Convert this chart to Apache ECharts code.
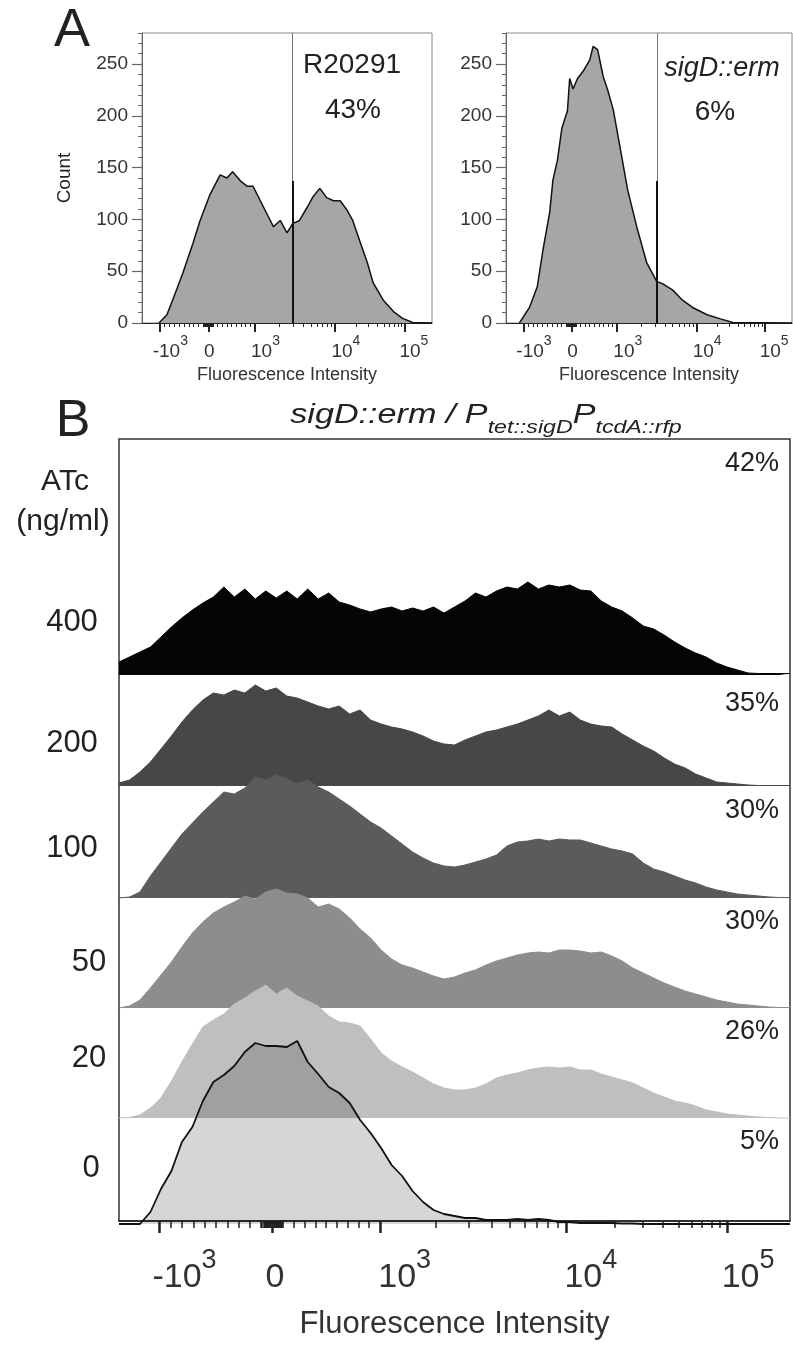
<!DOCTYPE html>
<html>
<head>
<meta charset="utf-8">
<script src="https://cdn.jsdelivr.net/npm/echarts@6/dist/echarts.min.js"></script>
<style>
html, body { margin: 0; padding: 0; background: #fff; }
#chart { width: 793px; height: 1345px; }
</style>
</head>
<body>
<div id="chart"></div>
<script>
const FONT = '"Liberation Sans", Arial, sans-serif'

// fluorescence axis, in display channels (0..256, logicle-like scale)
const tickValues = [-1000, 0, 1000, 10000, 100000]
const tickChannels = [15.5, 58.5, 99.5, 170.5, 232]
const tickLabelChannels = [25, 59.5, 109, 180, 240]
const tickBase = ['-10', '0', '10', '10', '10']
const tickExp = ['3', '', '3', '4', '5']

// panel A - count axis
const countTicks = [0, 50, 100, 150, 200, 250]

// panel A - R20291
const wtChannels = [15, 22, 27, 36, 45, 51, 60, 69, 75, 80, 87, 93, 98, 104, 110, 116, 122, 128, 133, 139,
    146, 151, 157, 163, 169, 175, 181, 186, 192, 199, 204, 213, 222, 230, 239, 256]
const wtCounts = [0, 8, 22, 48, 77, 98, 124, 143, 140, 146, 137, 132, 132, 119, 106, 93, 99, 87, 96, 99,
    112, 122, 130, 121, 118, 118, 109, 99, 80, 58, 39, 22, 11, 4.5, 0.5, 0]

// panel A - sigD::erm
const sigdChannels = [12, 21, 28, 33, 39, 42, 46, 50, 55, 57, 60, 64, 69, 75, 78, 82, 87, 91, 96, 102,
    109, 117, 126, 135, 140, 149, 158, 167, 180, 192, 203, 256]
const sigdCounts = [0, 15, 35, 70, 106, 138, 157, 188, 205, 236, 226, 236, 243, 254, 267, 264, 238, 225, 206, 170,
    128, 93, 58, 40, 38, 32, 22, 15, 8, 4, 0.5, 0]

const gateChannels = [133, 135]
const gateMarkTop = 137
const strainNames = ['R20291', 'sigD::erm']
const strainPct = ['43%', '6%']

// panel B - histograms per ATc dose (4-channel bins)
const bBins = [0, 4, 8, 12, 16, 20, 24, 28, 32, 36, 40, 44, 48, 52, 56, 60, 64, 68, 72, 76,
    80, 84, 88, 92, 96, 100, 104, 108, 112, 116, 120, 124, 128, 132, 136, 140, 144, 148, 152, 156,
    160, 164, 168, 172, 176, 180, 184, 188, 192, 196, 200, 204, 208, 212, 216, 220, 224, 228, 232, 236,
    240, 244, 248, 252, 256]
const atcDoses = ['400', '200', '100', '50', '20', '0']
const atcPct = ['42%', '35%', '30%', '30%', '26%', '5%']
const atc400 = [13, 18, 23, 28, 38, 48, 57, 65, 72, 78, 88, 78, 86, 76, 84, 77, 84, 76, 86, 76,
    82, 73, 70, 66, 63, 66, 68, 64, 67, 64, 68, 62, 68, 74, 82, 78, 84, 88, 86, 93,
    86, 90, 88, 90, 85, 84, 74, 68, 64, 57, 49, 46, 40, 33, 27, 22, 18, 12, 8, 5,
    2, 1.5, 1.5, 1.5, 1.5]
const atc200 = [3, 6, 14, 24, 37, 50, 64, 76, 86, 93, 91, 96, 93, 101, 95, 98, 90, 88, 84, 80,
    77, 80, 72, 76, 66, 62, 59, 57, 54, 50, 45, 42, 41, 46, 50, 54, 56, 59, 62, 66,
    70, 76, 70, 74, 66, 62, 60, 59, 52, 46, 40, 35, 28, 22, 18, 12, 8, 4, 3, 2,
    1, 0.5, 0.5, 0.5, 0.5]
const atc100 = [0, 1, 6, 22, 36, 50, 64, 75, 86, 96, 106, 104, 110, 121, 118, 123, 119, 114, 118, 111,
    106, 99, 92, 84, 76, 70, 62, 54, 46, 40, 35, 32, 31, 33, 36, 39, 43, 52, 56, 57,
    59, 57, 59, 58, 58, 55, 52, 49, 47, 44, 35, 29, 26, 22, 18, 15, 11, 8, 6, 4,
    3, 2, 1, 0.5, 0.5]
const atc50 = [0, 2, 8, 20, 33, 46, 61, 75, 86, 95, 101, 106, 112, 109, 116, 119, 115, 114, 110, 101,
    104, 99, 90, 79, 70, 58, 49, 43, 40, 36, 32, 29, 31, 35, 38, 43, 47, 50, 53, 55,
    56, 55, 58, 58, 57, 55, 56, 52, 47, 40, 35, 30, 25, 21, 17, 14, 11, 8, 6, 4,
    3, 2, 1, 0.5, 0.5]
const atc20 = [0, 0.5, 3, 10, 20, 37, 56, 74, 91, 98, 104, 114, 120, 127, 133, 124, 130, 122, 117, 112,
    102, 96, 95, 92, 79, 65, 57, 51, 46, 40, 34, 30, 28, 28, 30, 34, 40, 43, 45, 48,
    50, 51, 50, 51, 48, 48, 44, 41, 38, 35, 30, 25, 21, 17, 15, 12, 8, 6, 4, 3,
    2, 1, 0.5, 0, 0]
const atc0 = [0, 0, 0, 12, 35, 53, 82, 97, 123, 142, 149, 158, 172, 181, 178, 178, 177, 183, 162, 150,
    137, 131, 121, 104, 91, 76, 59, 48, 33, 22, 14, 10, 8, 6, 6, 4, 4, 4, 5, 4,
    5, 4, 2, 2, 1, 1, 1, 1, 0.5, 0.5, 0, 0, 0, 0, 0, 0, 0, 0, 0, 0,
    0, 0, 0, 0, 0]
const atcRows = [atc400, atc200, atc100, atc50, atc20, atc0]

// styles / layout
const rowFill = ['#050505', '#474747', '#5b5b5b', '#8d8d8d', '#bfbfbf', 'rgba(0,0,0,0.16)']
const rowLine = ['#050505', '#474747', '#5b5b5b', '#8d8d8d', '#bfbfbf', '#111']
const rowBase = [675, 786, 898, 1008, 1118, 1224]
const rowLabelX = [72, 72, 72, 89, 89, 91]
const rowLabelY = [622, 743, 848, 962, 1058, 1168]
const pctLabelY = [464, 704, 811, 922, 1032, 1142]
const rowHeight = 110

// channel of a fluorescence value, piecewise between decade ticks
function chOf(v) {
    for (let i = 0; i < tickValues.length - 1; i++) {
        let a = tickValues[i], b = tickValues[i + 1]
        if (v <= b) {
            let t = a >= 1000 ? Math.log10(v / a) / Math.log10(b / a) : (v - a) / (b - a)
            return tickChannels[i] + t * (tickChannels[i + 1] - tickChannels[i])
        }
    }
    return tickChannels[tickChannels.length - 1]
}

let minorValues = []
for (let k = 1; k <= 9; k++) {
    minorValues.push(-k * 100, k * 100, -k * 10, k * 10)
}
for (let k = 2; k <= 9; k++) {
    minorValues.push(k * 1000, k * 10000)
}
const minorTicks = minorValues.map(chOf)

function zip(xs, ys) {
    return xs.map(function(x, i) { return [x, ys[i]] })
}

function fluorAxes(grid, sz) {
    return [{
        gridIndex: grid, type: 'value', min: 0, max: 256, position: 'bottom',
        axisLine: { lineStyle: { color: '#222', width: sz.lineW } },
        axisTick: { customValues: tickChannels, length: sz.major, lineStyle: { color: '#222', width: sz.majorW } },
        axisLabel: {
            customValues: tickLabelChannels, margin: sz.margin,
            formatter: function(v) {
                let i = tickLabelChannels.indexOf(v)
                return '{b|' + tickBase[i] + '}' + (tickExp[i] ? '{s|' + tickExp[i] + '}' : '')
            },
            rich: {
                b: { fontSize: sz.font, fontFamily: FONT, color: '#333', lineHeight: sz.lh, verticalAlign: 'bottom' },
                s: { fontSize: sz.sup, fontFamily: FONT, color: '#333', lineHeight: sz.slh, verticalAlign: 'top' }
            }
        },
        splitLine: { show: false },
        name: 'Fluorescence Intensity', nameLocation: 'middle', nameGap: sz.nameGap,
        nameTextStyle: { fontSize: sz.nameFont, fontFamily: FONT, color: '#333' }
    }, {
        gridIndex: grid, type: 'value', min: 0, max: 256, position: 'bottom',
        axisLine: { show: false },
        axisTick: { customValues: minorTicks, length: sz.minor, lineStyle: { color: '#222', width: sz.minorW } },
        axisLabel: { show: false },
        splitLine: { show: false }
    }]
}

function countAxes(grid) {
    return [{
        gridIndex: grid, type: 'value', min: 0, max: 280, interval: 10, position: 'left',
        axisLine: { show: true, lineStyle: { color: '#666' } },
        axisTick: { show: true, length: 4, lineStyle: { color: '#666' } },
        axisLabel: {
            margin: 14, fontSize: 19, fontFamily: FONT, color: '#333',
            formatter: function(v) { return countTicks.indexOf(v) >= 0 ? String(v) : '' }
        },
        splitLine: { show: false }
    }, {
        gridIndex: grid, type: 'value', min: 0, max: 280, position: 'left',
        axisLine: { show: false },
        axisTick: { show: true, customValues: countTicks, length: 10, lineStyle: { color: '#666', width: 1.2 } },
        axisLabel: { show: false },
        splitLine: { show: false }
    }]
}

const sizeA = { lineW: 1.2, major: 9, majorW: 2, minor: 4, minorW: 1, margin: 11, font: 19, sup: 14, lh: 27, slh: 20, nameGap: 43, nameFont: 18 }
const sizeB = { lineW: 1.5, major: 12, majorW: 2.5, minor: 7, minorW: 1.5, margin: 26, font: 34, sup: 27, lh: 48, slh: 16, nameGap: 88, nameFont: 31 }

let grids = [
    { left: 142, top: 33, width: 290, height: 290, show: true, borderColor: '#888', borderWidth: 1 },
    { left: 506, top: 33, width: 286, height: 290, show: true, borderColor: '#888', borderWidth: 1 },
    { left: 119, top: 439, width: 671, height: 785, show: true, borderColor: '#333', borderWidth: 1.5 }
]
let xAxes = fluorAxes(0, sizeA).concat(fluorAxes(1, sizeA), fluorAxes(2, sizeB))
let yAxes = countAxes(0).concat(countAxes(1), [{ gridIndex: 2, type: 'value', min: 0, max: 1, show: false }])

function gateMark(gate) {
    return {
        symbol: 'none', silent: true, animation: false,
        label: { show: false },
        lineStyle: { type: 'solid' },
        data: [
            { xAxis: gate, lineStyle: { color: '#777', width: 1, type: 'solid' } },
            [{ coord: [gate, 0], lineStyle: { color: '#111', width: 2, type: 'solid' } }, { coord: [gate, gateMarkTop] }]
        ]
    }
}

let series = [{
    type: 'line', xAxisIndex: 0, yAxisIndex: 0, data: zip(wtChannels, wtCounts),
    showSymbol: false, symbol: 'none',
    lineStyle: { color: '#111', width: 1.5 },
    areaStyle: { color: '#a6a6a6', opacity: 1 },
    markLine: gateMark(gateChannels[0])
}, {
    type: 'line', xAxisIndex: 2, yAxisIndex: 2, data: zip(sigdChannels, sigdCounts),
    showSymbol: false, symbol: 'none',
    lineStyle: { color: '#111', width: 1.5 },
    areaStyle: { color: '#a6a6a6', opacity: 1 },
    markLine: gateMark(gateChannels[1])
}]

atcRows.forEach(function(row, i) {
    grids.push({ left: 119, width: 671, top: rowBase[i] - rowHeight, height: rowHeight })
    xAxes.push({ gridIndex: 3 + i, type: 'value', min: 0, max: 256, show: false })
    yAxes.push({ gridIndex: 3 + i, type: 'value', min: 0, max: rowHeight, show: false })
    series.push({
        type: 'line', xAxisIndex: 6 + i, yAxisIndex: 5 + i,
        data: zip(bBins, row),
        showSymbol: false, symbol: 'none', clip: false, z: 3 + i,
        lineStyle: { color: rowLine[i], width: i === 5 ? 1.8 : 1 },
        areaStyle: { color: rowFill[i], opacity: 1 }
    })
})

function label(text, x, y, size, extra) {
    return {
        type: 'text', x: x, y: y, silent: true,
        style: Object.assign({
            text: text, fontSize: size, fontFamily: FONT, fill: '#222',
            align: 'center', verticalAlign: 'middle', textAlign: 'center', textVerticalAlign: 'middle'
        }, extra || {})
    }
}

let texts = [
    label('A', 72, 31, 54),
    label('B', 73, 422, 52),
    Object.assign(label('Count', 65, 178, 19), { rotation: Math.PI / 2 }),
    label(strainNames[0], 352, 65, 28),
    label(strainPct[0], 353, 110, 28),
    label(strainNames[1], 722, 68, 27, { fontStyle: 'italic' }),
    label(strainPct[1], 715, 112, 28),
    label('ATc', 65, 482, 30),
    label('(ng/ml)', 63, 522, 30),
    Object.assign(label('{m|sigD::erm / P}{s|tet::sigD}{m|P}{s|tcdA::rfp}', 486, 419, 28, {
        rich: {
            m: { fontSize: 28, fontStyle: 'italic', fontFamily: FONT, fill: '#222', lineHeight: 36, verticalAlign: 'top' },
            s: { fontSize: 19, fontStyle: 'italic', fontFamily: FONT, fill: '#222', lineHeight: 16, verticalAlign: 'bottom' }
        }
    }), { scaleX: 1.22 })
]
atcDoses.forEach(function(d, i) {
    texts.push(label(d, rowLabelX[i], rowLabelY[i], 31))
    texts.push(label(atcPct[i], 779, pctLabelY[i], 27, { align: 'right', textAlign: 'right' }))
})

let chart = echarts.init(document.getElementById('chart'))
chart.setOption({
    animation: false,
    backgroundColor: '#fff',
    grid: grids,
    xAxis: xAxes,
    yAxis: yAxes,
    series: series,
    graphic: { elements: texts }
})
</script>
</body>
</html>
